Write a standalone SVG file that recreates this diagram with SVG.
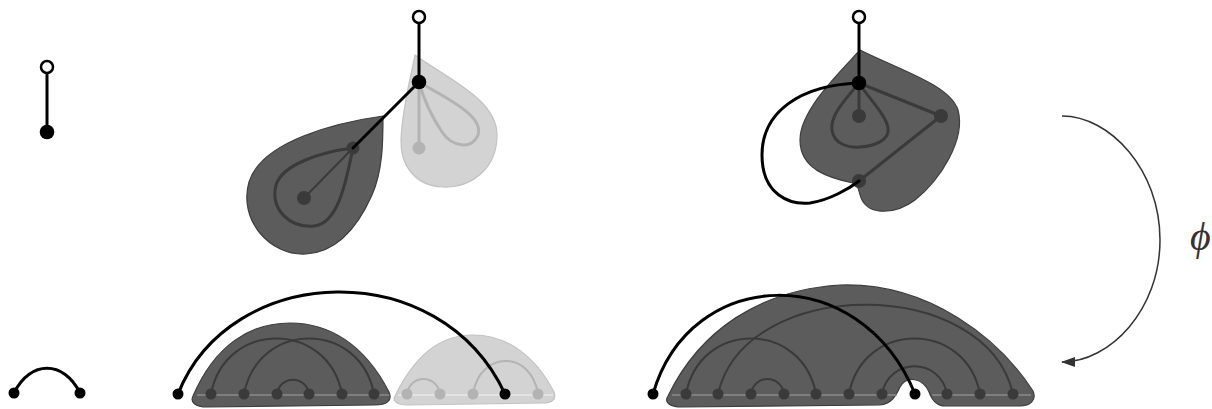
<svg xmlns="http://www.w3.org/2000/svg" width="1212" height="409" viewBox="0 0 1212 409">
<defs>
<style>
.blk{fill:none;stroke:#000;stroke-width:3;stroke-linecap:round}
.open{fill:#fff;stroke:#000;stroke-width:2.5}
.bn{fill:#000}
.dshape{fill:#5c5c5c;stroke:#3e3e3e;stroke-width:1.2}
.lshape{fill:#d3d3d3;stroke:#c2c2c2;stroke-width:1.2}
.dl{fill:none;stroke:#3a3a3a;stroke-width:3}
.dl2{fill:none;stroke:#3a3a3a;stroke-width:2}
.ll{fill:none;stroke:#b3b3b3;stroke-width:3}
.ll2{fill:none;stroke:#b3b3b3;stroke-width:2}
.dn{fill:#3a3a3a}
.ln{fill:#b3b3b3}
.dbase{stroke:#8a8a8a;stroke-width:1.5}
.lbase{stroke:#e8e8e8;stroke-width:1.5}
.arrow{fill:none;stroke:#333;stroke-width:1.5}
</style>
<marker id="ah" viewBox="0 0 14 10" refX="13" refY="5" markerWidth="14" markerHeight="10" markerUnits="userSpaceOnUse" orient="auto">
<path d="M0,0 L14,5 L0,10 Z" fill="#333"/>
</marker>
</defs>

<!-- Panel 1 top -->
<g id="p1-top">
<line class="blk" x1="47" y1="67" x2="47" y2="132"/>
<circle class="open" cx="47" cy="67" r="6"/>
<circle class="bn" cx="47" cy="132" r="7.3"/>
</g>

<!-- Panel 1 bottom -->
<g id="p1-bottom">
<path class="blk" d="M14,393 C30,360 64,360 80,393"/>
<circle class="bn" cx="14" cy="393" r="5.5"/>
<circle class="bn" cx="80" cy="393" r="5.5"/>
</g>

<!-- Panel 2 top -->
<g id="p2-light-leaf">
<path class="lshape" d="M415,55 C450,80 497,100 497,135 C497,170 470,188 443,187 C415,186 400,165 401,140 C402,110 410,80 415,55 Z"/>
<path class="ll" d="M419,82 C440,95 485,115 478,135 C472,150 452,147 442,132 C432,117 423,97 419,82 Z"/>
<line class="ll" x1="419" y1="82" x2="419" y2="148"/>
<circle class="ln" cx="419" cy="148" r="6.5"/>
</g>
<g id="p2-dark-leaf">
<path class="dshape" d="M383,116 C340,122 262,140 249,182 C238,220 270,256 306,254 C340,252 360,222 372,195 C383,170 383,140 383,116 Z"/>
<path class="dl" d="M353,148 C320,152 282,165 276,185 C270,210 290,228 314,226 C338,224 346,182 353,148 Z"/>
<line class="dl2" x1="353" y1="148" x2="304" y2="198"/>
<circle class="dn" cx="304" cy="198" r="7"/>
<circle class="dn" cx="353" cy="148" r="6.5"/>
</g>
<g id="p2-top-stem">
<line class="blk" x1="419" y1="17" x2="419" y2="82"/>
<line class="blk" x1="419" y1="82" x2="353" y2="148"/>
<circle class="open" cx="419" cy="17" r="6"/>
<circle class="bn" cx="419" cy="82" r="7.3"/>
</g>

<!-- Panel 3 top -->
<g id="p3-heart">
<path class="dshape" d="M860,50 C900,70 950,85 958,110 C966,140 940,180 915,200 C895,215 870,215 862,200 C858,192 860,186 853,183 C830,178 800,170 800,140 C800,110 840,72 860,50 Z"/>
<path class="dl" d="M859,83 C845,100 830,115 832,130 C834,145 850,148 860,147 C875,146 890,140 888,128 C886,115 870,100 859,83 Z"/>
<line class="dl" x1="859" y1="83" x2="859" y2="116"/>
<line class="dl" x1="859" y1="83" x2="941" y2="116"/>
<line class="dl" x1="941" y1="116" x2="859" y2="181"/>
<circle class="dn" cx="859" cy="116" r="7"/>
<circle class="dn" cx="941" cy="116" r="7"/>
<circle class="dn" cx="859" cy="181" r="7"/>
</g>
<g id="p3-top-stem">
<path class="blk" d="M859,83 C800,85 762,112 762,155 C762,195 790,205 810,203 C830,200 850,188 859,181"/>
<line class="blk" x1="859" y1="17" x2="859" y2="83"/>
<circle class="open" cx="859" cy="17" r="6"/>
<circle class="bn" cx="859" cy="83" r="7.3"/>
</g>

<!-- Panel 2 bottom -->
<g id="p2-dark-dome">
<path class="dshape" d="M193,396 C215,345 250,323 290,323 C330,323 365,345 389,392 C393,401 386,405 375,405 L207,407 C195,407 190,402 193,396 Z"/>
<line class="dbase" x1="197" y1="395" x2="389" y2="395"/>
<path class="dl2" d="M211,394 C225,320 328,320 342,394"/>
<path class="dl2" d="M244,394 C258,320 360,320 374,394"/>
<path class="dl2" d="M277,394 C280,375 306,375 309,394"/>
<circle class="dn" cx="211" cy="394" r="5.5"/>
<circle class="dn" cx="244" cy="394" r="5.5"/>
<circle class="dn" cx="277" cy="394" r="5.5"/>
<circle class="dn" cx="309" cy="394" r="5.5"/>
<circle class="dn" cx="342" cy="394" r="5.5"/>
<circle class="dn" cx="374" cy="394" r="5.5"/>
</g>
<g id="p2-light-dome">
<path class="lshape" d="M395,396 C415,355 440,335 473,335 C506,335 535,355 554,392 C557,400 551,403 543,403 L407,405 C397,405 392,401 395,396 Z"/>
<line class="lbase" x1="398" y1="395" x2="553" y2="395"/>
<path class="ll2" d="M407,394 C410,374 437,374 440,394"/>
<path class="ll2" d="M473,394 C480,350 531,350 538,394"/>
<circle class="ln" cx="407" cy="394" r="5.5"/>
<circle class="ln" cx="440" cy="394" r="5.5"/>
<circle class="ln" cx="473" cy="394" r="5.5"/>
<circle class="ln" cx="538" cy="394" r="5.5"/>
</g>
<g id="p2-bottom-edge">
<path class="blk" d="M178,394 C230,262 440,254 505,394"/>
<circle class="bn" cx="178" cy="394" r="5.5"/>
<circle class="bn" cx="505" cy="394" r="5.5"/>
</g>

<!-- Panel 3 bottom -->
<g id="p3-dome">
<path class="dshape" d="M668,396 C700,330 760,290 840,285 C930,282 1000,340 1033,391 C1037,400 1030,406 1020,406 L945,406 C936,406 932,400 929,392 C923,378 907,375 900,387 C896,396 891,404 880,405 L682,407 C669,407 664,402 668,396 Z"/>
<line class="dbase" x1="672" y1="395" x2="897" y2="395"/>
<line class="dbase" x1="932" y1="395" x2="1031" y2="395"/>
<path class="dl2" d="M751,394 C754,374 781,374 784,394"/>
<path class="dl2" d="M686,394 C700,320 802,320 816,394"/>
<path class="dl2" d="M718,394 C745,275 986,275 1013,394"/>
<path class="dl2" d="M849,394 C863,320 966,320 980,394"/>
<path class="dl2" d="M882,394 C889,357 940,357 947,394"/>
<circle class="dn" cx="686" cy="394" r="5.5"/>
<circle class="dn" cx="718" cy="394" r="5.5"/>
<circle class="dn" cx="751" cy="394" r="5.5"/>
<circle class="dn" cx="784" cy="394" r="5.5"/>
<circle class="dn" cx="816" cy="394" r="5.5"/>
<circle class="dn" cx="849" cy="394" r="5.5"/>
<circle class="dn" cx="882" cy="394" r="5.5"/>
<circle class="dn" cx="947" cy="394" r="5.5"/>
<circle class="dn" cx="980" cy="394" r="5.5"/>
<circle class="dn" cx="1013" cy="394" r="5.5"/>
</g>
<g id="p3-bottom-edge">
<path class="blk" d="M653,394 C690,265 860,260 915,394"/>
<circle class="bn" cx="653" cy="394" r="5.5"/>
<circle class="bn" cx="915" cy="394" r="5.5"/>
</g>

<!-- connectors -->
<g id="connectors">
<path class="arrow" d="M1062,116 C1110,116 1160,170 1160,240 C1160,310 1110,362 1062,362" marker-end="url(#ah)"/>
</g>
<g id="label-phi">
<text x="1190" y="250" font-family="'Liberation Serif','DejaVu Serif',serif" font-style="italic" font-size="40" fill="#333">ϕ</text>
</g>
</svg>
